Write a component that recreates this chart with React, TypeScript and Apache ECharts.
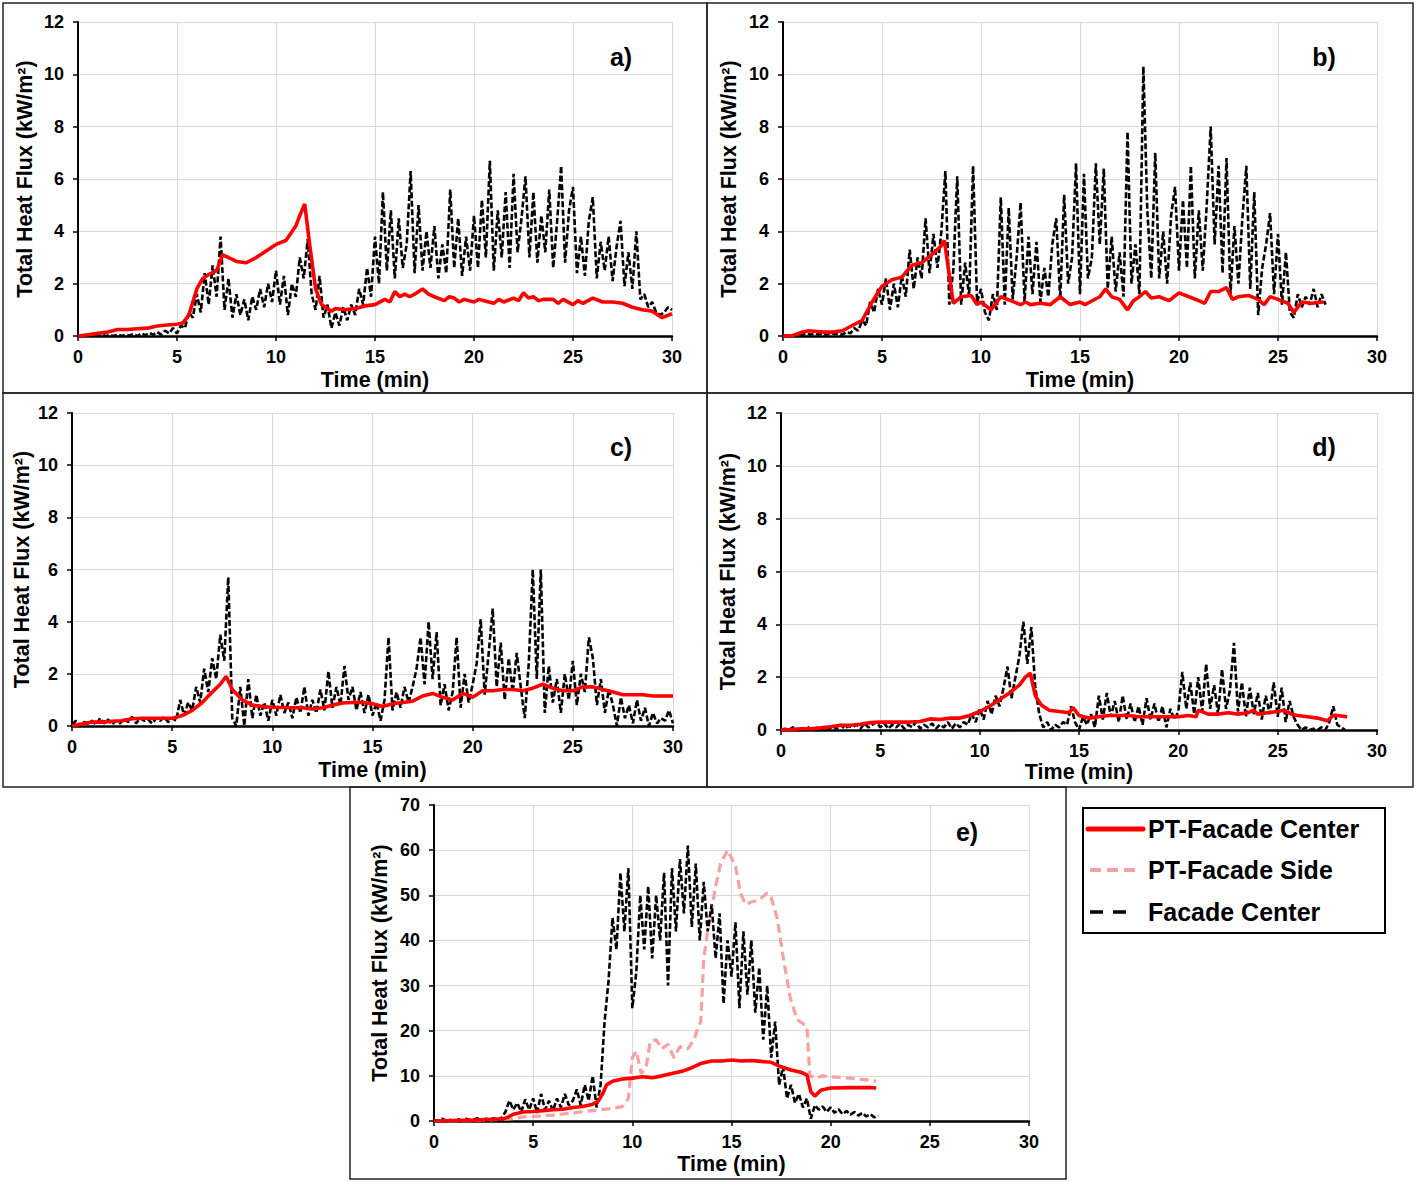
import { useEffect, useRef } from "react";
import * as echarts from "echarts";

// sampling step (min) of the facade-center gauge records
const STEP = 0.2;

const panelLetters = ["a)", "b)", "c)", "d)", "e)"];
const legendNames = ["PT-Facade Center", "PT-Facade Side", "Facade Center"];

// ---- panel a ----
const aPtCenter = [
  [0, 0], [0.5, 0.05], [1, 0.1], [1.5, 0.15], [2, 0.25], [2.5, 0.25], [3, 0.28], [3.5, 0.3],
  [4, 0.38], [4.5, 0.42], [5, 0.45], [5.3, 0.5], [5.6, 0.8], [6, 1.8], [6.3, 2.2], [6.6, 2.35],
  [7, 2.5], [7.3, 3.1], [7.6, 3.0], [8, 2.85], [8.5, 2.8], [9, 3.0], [9.5, 3.25], [10, 3.5],
  [10.5, 3.65], [11, 4.2], [11.2, 4.6], [11.45, 5.05], [11.7, 3.5], [12, 1.8], [12.3, 1.2],
  [12.8, 0.95], [13, 1.05], [13.5, 1.0], [14, 1.05], [14.5, 1.15], [15, 1.2], [15.5, 1.4],
  [15.75, 1.3], [16, 1.7], [16.25, 1.5], [16.5, 1.6], [16.75, 1.5], [17, 1.6], [17.4, 1.8],
  [17.7, 1.6], [18, 1.5], [18.5, 1.35], [18.75, 1.5], [19, 1.45], [19.25, 1.3], [19.5, 1.4],
  [20, 1.3], [20.25, 1.4], [20.5, 1.35], [21, 1.25], [21.25, 1.4], [21.5, 1.3], [22, 1.45],
  [22.25, 1.35], [22.5, 1.65], [22.75, 1.45], [23, 1.5], [23.25, 1.35], [23.5, 1.4], [24, 1.4],
  [24.25, 1.25], [24.5, 1.4], [25, 1.2], [25.25, 1.35], [25.5, 1.25], [26, 1.45], [26.5, 1.3],
  [27, 1.3], [27.5, 1.25], [28, 1.1], [28.5, 1.0], [29, 0.95], [29.5, 0.7], [30, 0.85],
];
const aFacade = [
  0, 0, 0.02, 0, 0.03, 0, 0.05, 0, 0.04, 0,
  0.06, 0, 0.05, 0.02, 0.08, 0, 0.1, 0.03, 0.12, 0.05,
  0.15, 0.05, 0.2, 0.1, 0.3, 0.1, 0.4, 0.3, 0.9, 0.7,
  1.6, 0.9, 2.4, 1.2, 2.7, 1.5, 3.8, 1.0, 2.2, 0.7,
  1.6, 0.8, 1.4, 0.6, 1.5, 1.0, 1.8, 1.1, 2.0, 1.3,
  2.5, 1.2, 2.3, 0.8, 2.0, 1.5, 3.0, 2.2, 3.7, 1.6,
  1.0, 2.3, 0.7, 1.2, 0.3, 0.9, 0.4, 1.1, 0.6, 1.2,
  0.8, 1.8, 1.2, 2.6, 1.5, 3.8, 2.0, 5.5, 2.5, 4.8,
  2.2, 4.5, 2.6, 3.5, 6.3, 2.4, 5.0, 2.5, 4.0, 2.6,
  4.2, 2.2, 3.5, 2.4, 5.6, 2.6, 4.5, 2.3, 3.8, 2.5,
  4.6, 2.6, 5.2, 3.0, 6.7, 2.5, 4.8, 3.0, 5.5, 2.6,
  6.2, 3.2, 4.5, 6.1, 3.0, 5.5, 2.8, 4.6, 3.2, 5.6,
  2.6, 4.4, 6.5, 2.8, 4.8, 5.7, 2.4, 3.8, 2.3, 4.4,
  5.3, 2.2, 3.6, 2.5, 3.8, 2.1, 3.4, 4.4, 1.9, 3.2,
  1.8, 4.0, 1.4, 1.6, 1.1, 1.3, 0.9, 0.8, 0.9, 1.1,
  1.0,
];

// ---- panel b ----
const bPtCenter = [
  [0, 0], [0.5, 0.02], [1, 0.15], [1.3, 0.2], [2, 0.15], [2.5, 0.15], [3, 0.2], [3.5, 0.4],
  [4, 0.6], [4.5, 1.3], [5, 1.9], [5.5, 2.15], [6, 2.25], [6.5, 2.7], [7, 2.8], [7.5, 3.1],
  [8, 3.45], [8.15, 3.65], [8.6, 1.25], [9, 1.5], [9.5, 1.55], [9.8, 1.2], [10, 1.3],
  [10.5, 1.0], [11, 1.5], [11.5, 1.35], [12, 1.2], [12.25, 1.3], [12.5, 1.2], [13, 1.25],
  [13.5, 1.2], [14, 1.5], [14.5, 1.2], [15, 1.3], [15.25, 1.2], [15.5, 1.3], [16, 1.5],
  [16.3, 1.8], [16.6, 1.5], [17, 1.4], [17.4, 1.0], [17.7, 1.35], [18, 1.5], [18.3, 1.7],
  [18.6, 1.45], [19, 1.5], [19.5, 1.35], [20, 1.65], [20.5, 1.5], [21, 1.35], [21.3, 1.25],
  [21.6, 1.7], [22, 1.7], [22.4, 1.85], [22.7, 1.4], [23, 1.5], [23.5, 1.55], [24, 1.4],
  [24.3, 1.2], [24.6, 1.5], [25, 1.4], [25.5, 1.25], [25.8, 0.9], [26.2, 1.3], [26.7, 1.25],
  [27.3, 1.3],
];
const bFacade = [
  0, 0.02, 0, 0.03, 0, 0.05, 0.1, 0.05, 0.1, 0.06,
  0.1, 0.05, 0.12, 0.08, 0.1, 0.05, 0.15, 0.1, 0.3, 0.2,
  0.6, 0.4, 1.3, 0.9, 1.8, 1.2, 2.2, 1.0, 2.0, 1.1,
  2.3, 1.5, 3.3, 1.8, 3.0, 2.2, 4.5, 2.4, 3.9, 2.6,
  4.0, 6.3, 1.2, 2.5, 6.1, 1.2, 2.8, 1.5, 6.5, 1.3,
  1.8, 0.9, 0.6, 1.6, 1.0, 5.3, 1.2, 4.9, 1.4, 3.0,
  5.1, 1.3, 3.8, 1.6, 3.6, 1.3, 2.6, 1.5, 3.5, 4.5,
  1.4, 5.4, 2.0, 3.0, 6.6, 1.6, 6.2, 2.2, 3.0, 6.6,
  3.5, 6.4, 1.8, 3.8, 1.7, 3.2, 1.5, 7.8, 2.0, 3.5,
  1.6, 10.3, 4.8, 2.2, 7.0, 2.2, 4.0, 2.0, 4.6, 5.7,
  2.5, 5.2, 2.6, 6.5, 2.2, 4.8, 2.5, 5.0, 8.0, 3.5,
  6.5, 2.4, 6.8, 1.6, 4.2, 2.0, 4.5, 6.5, 1.8, 5.5,
  0.8, 2.6, 3.5, 4.7, 1.6, 3.9, 1.2, 3.2, 0.9, 0.7,
  1.6, 1.1, 1.5, 1.2, 1.8, 1.1, 1.6, 1.2,
];

// ---- panel c ----
const cPtCenter = [
  [0, 0], [0.5, 0.08], [1, 0.15], [1.5, 0.15], [2, 0.18], [2.5, 0.2], [3, 0.28], [3.5, 0.3],
  [4, 0.3], [4.5, 0.3], [5, 0.3], [5.5, 0.4], [6, 0.6], [6.5, 0.9], [7, 1.3], [7.4, 1.6],
  [7.7, 1.9], [8, 1.4], [8.5, 1.0], [9, 0.8], [9.5, 0.75], [10, 0.72], [11, 0.7], [11.5, 0.7],
  [12, 0.65], [12.5, 0.7], [13, 0.8], [13.5, 0.88], [14, 0.9], [14.5, 0.9], [15, 0.85],
  [15.5, 0.75], [16, 0.85], [16.5, 0.9], [17, 0.95], [17.5, 1.15], [18, 1.25], [18.5, 1.1],
  [19, 1.0], [19.5, 1.25], [20, 1.1], [20.5, 1.35], [21, 1.35], [21.5, 1.4], [22, 1.4],
  [22.5, 1.35], [23, 1.45], [23.5, 1.6], [24, 1.45], [24.5, 1.35], [25, 1.35], [25.5, 1.5],
  [26, 1.5], [26.5, 1.4], [27, 1.3], [27.5, 1.2], [28, 1.2], [28.5, 1.2], [29, 1.15],
  [29.5, 1.15], [30, 1.15],
];
const cFacade = [
  0.05, 0.2, 0, 0.15, 0.1, 0.2, 0.05, 0.3, 0.1, 0.25,
  0.05, 0.2, 0.1, 0.3, 0.15, 0.35, 0.1, 0.3, 0.2, 0.25,
  0.1, 0.3, 0.2, 0.35, 0.15, 0.3, 0.2, 1.0, 0.4, 0.9,
  0.6, 1.5, 0.9, 2.2, 1.3, 2.6, 1.8, 3.5, 2.5, 5.7,
  0.3, 0, 1.5, 0, 1.8, 0.3, 1.2, 0.4, 0.9, 0.2,
  1.0, 0.4, 1.2, 0.5, 0.9, 0.3, 1.1, 0.5, 1.5, 0.4,
  1.0, 0.5, 1.4, 0.6, 2.1, 0.7, 1.5, 0.8, 2.3, 1.0,
  1.5, 0.6, 1.3, 0.5, 1.2, 0.4, 0.9, 0.2, 1.0, 3.4,
  0.6, 1.3, 0.7, 1.5, 0.9, 1.5, 2.2, 3.4, 1.6, 4.0,
  1.8, 3.6, 0.8, 1.6, 0.6, 1.3, 3.4, 0.7, 2.0, 0.9,
  1.6, 2.4, 4.1, 1.2, 2.8, 4.5, 1.5, 3.2, 1.0, 2.6,
  1.3, 2.8, 1.5, 0.3, 2.4, 6.0, 1.8, 6.0, 0.5, 2.3,
  0.9, 1.8, 0.5, 2.0, 1.0, 2.5, 0.8, 2.0, 1.3, 3.4,
  2.6, 0.8, 1.8, 0.5, 1.4, 0.8, 0, 1.1, 0.3, 0.8,
  0.1, 1.0, 0.2, 0.7, 0, 0.5, 0.1, 0.3, 0.2, 0.6,
  0.1,
];

// ---- panel d ----
const dPtCenter = [
  [0, 0], [0.5, 0.02], [1, 0.05], [1.5, 0.05], [2, 0.08], [2.5, 0.12], [3, 0.18], [3.5, 0.18],
  [4, 0.22], [4.5, 0.28], [5, 0.3], [5.5, 0.3], [6, 0.3], [6.5, 0.3], [7, 0.32], [7.5, 0.42],
  [8, 0.4], [8.5, 0.45], [9, 0.45], [9.5, 0.55], [10, 0.7], [10.5, 0.9], [11, 1.15],
  [11.5, 1.4], [12, 1.7], [12.3, 2.0], [12.55, 2.15], [12.8, 1.3], [13.1, 0.95], [13.5, 0.75],
  [14, 0.7], [14.5, 0.65], [14.7, 0.85], [15, 0.55], [15.5, 0.45], [16, 0.5], [16.5, 0.55],
  [17, 0.55], [17.5, 0.55], [18, 0.5], [18.5, 0.5], [19, 0.5], [19.5, 0.5], [20, 0.5],
  [20.5, 0.55], [20.9, 0.5], [21, 0.75], [21.5, 0.6], [22, 0.6], [22.5, 0.65], [23, 0.6],
  [23.5, 0.65], [23.8, 0.75], [24, 0.6], [24.5, 0.65], [25, 0.7], [25.3, 0.75], [25.7, 0.6],
  [26, 0.55], [26.5, 0.5], [27, 0.45], [27.5, 0.35], [27.8, 0.55], [28, 0.55], [28.5, 0.5],
];
const dFacade = [
  0, 0.05, 0, 0.1, 0, 0.05, 0, 0.1, 0.02, 0.08,
  0, 0.1, 0.02, 0.15, 0.05, 0.2, 0.05, 0.15, 0.1, 0.2,
  0.05, 0.25, 0.1, 0.2, 0.3, 0.1, 0.25, 0.05, 0.2, 0.1,
  0.25, 0.05, 0.2, 0.1, 0.3, 0.05, 0.2, 0.1, 0.25, 0.05,
  0.2, 0.1, 0.3, 0.05, 0.25, 0.1, 0.3, 0.2, 0.6, 0.3,
  0.8, 0.4, 1.1, 0.6, 1.3, 0.9, 1.6, 2.4, 1.2, 2.0,
  2.8, 4.1, 2.5, 3.9, 1.6, 0.6, 0.1, 0.3, 0, 0.2,
  0.1, 0.3, 0.2, 0.9, 0.3, 0, 0.5, 0.2, 0.6, 0.1,
  1.3, 0.4, 1.4, 0.5, 1.1, 0.3, 1.3, 0.4, 1.0, 0.3,
  0.9, 0.2, 1.2, 0.4, 1.0, 0.3, 0.9, 0.1, 0.8, 0.4,
  0.7, 2.2, 0.8, 1.8, 0.6, 2.0, 0.7, 2.5, 0.8, 1.7,
  0.6, 2.3, 0.8, 1.5, 3.3, 0.7, 1.8, 0.5, 1.6, 0.6,
  1.4, 0.4, 1.3, 0.6, 1.8, 0.5, 1.6, 0.3, 1.1, 0.5,
  0.2, 0, 0.1, 0, 0.05, 0, 0.1, 0, 0.3, 0.9,
  0.2, 0.1, 0,
];

// ---- panel e ----
const ePtCenter = [
  [0, 0], [1, 0.1], [2, 0.2], [3, 0.4], [3.5, 0.5], [3.7, 0.8], [4, 1.5], [4.5, 2.0],
  [5, 2.1], [5.5, 2.3], [6, 2.5], [6.5, 2.6], [7, 3.0], [7.5, 3.2], [8, 3.7], [8.3, 4.5],
  [8.5, 6.0], [8.7, 8.0], [9, 8.8], [9.5, 9.3], [10, 9.5], [10.5, 9.8], [11, 9.6],
  [11.5, 10.0], [12, 10.5], [12.5, 11.0], [13, 11.8], [13.5, 12.8], [14, 13.3], [14.5, 13.3],
  [15, 13.5], [15.5, 13.3], [16, 13.4], [16.5, 13.2], [17, 13.0], [17.5, 12.0], [18, 11.3],
  [18.5, 10.8], [18.8, 10.2], [19.0, 6.5], [19.2, 5.5], [19.5, 6.8], [20, 7.3], [21, 7.4],
  [22, 7.4], [22.3, 7.3],
];
const ePtSide = [
  [0, 0], [1, 0], [2, 0.1], [3, 0.3], [4, 0.5], [4.5, 0.9], [5, 1.0], [6, 1.3], [7, 1.8],
  [8, 2.3], [9, 2.8], [9.5, 3.2], [9.8, 5.0], [10.0, 14.0], [10.2, 15.5], [10.45, 10.5],
  [10.7, 12.0], [10.9, 17.5], [11.2, 18.0], [11.5, 16.0], [11.8, 17.0], [12.1, 14.0],
  [12.4, 16.5], [12.8, 16.0], [13.1, 18.0], [13.3, 20.5], [13.45, 22.0], [13.6, 36.0],
  [13.8, 42.0], [14.0, 47.0], [14.2, 52.0], [14.45, 57.0], [14.8, 60.0], [15.2, 56.5],
  [15.45, 50.5], [15.7, 48.0], [16.0, 48.5], [16.4, 49.0], [16.8, 50.5], [17.0, 49.5],
  [17.3, 45.0], [17.6, 36.5], [17.95, 27.5], [18.3, 22.5], [18.8, 21.0], [18.95, 10.0],
  [19.3, 9.5], [19.6, 10.0], [20, 9.8], [21, 9.5], [22, 9.0], [22.3, 8.8],
];
const eFacade = [
  0.2, 0, 0.5, 0.1, 0.3, 0, 0.4, 0.1, 0.5, 0.2,
  0.3, 0.6, 0.1, 0.5, 0.3, 0.6, 0.2, 0.7, 2.0, 4.5,
  2.5, 4.0, 2.0, 4.8, 2.5, 5.0, 1.8, 6.0, 2.5, 4.5,
  2.2, 5.0, 3.0, 6.0, 3.5, 4.5, 7.0, 3.5, 8.0, 4.5,
  10.0, 3.0, 8.0, 22.0, 31.0, 45.0, 38.0, 55.0, 42.0, 56.0,
  25.0, 33.0, 50.0, 38.0, 52.0, 36.0, 50.0, 40.0, 55.0, 30.0,
  56.0, 42.0, 58.0, 46.0, 61.0, 43.0, 57.0, 40.0, 53.0, 42.0,
  48.0, 36.0, 46.0, 26.0, 40.0, 32.0, 44.0, 25.0, 42.0, 28.0,
  40.0, 24.0, 34.0, 18.0, 30.0, 14.0, 22.0, 8.0, 12.0, 5.0,
  8.0, 4.0, 6.0, 3.0, 5.0, 0.5, 3.5, 2.5, 3.2, 2.0,
  3.0, 1.8, 2.6, 1.5, 2.2, 1.4, 2.0, 1.2, 1.8, 1.0,
  1.5, 0.8, 1.2,
];

const grids = [
  { left: 78, top: 22, width: 594, height: 314 },
  { left: 783, top: 22, width: 594, height: 314 },
  { left: 72, top: 413, width: 601, height: 313 },
  { left: 781, top: 413, width: 596, height: 317 },
  { left: 434, top: 805, width: 595, height: 316 },
];
const yNameGaps = [42, 43, 39, 42, 43];
const xNameGaps = [33, 33, 33, 31, 32];
const letterPos = [
  [621, 57], [1324, 57], [621, 447], [1324, 447], [967, 832],
];
const boxes = [
  [3, 3, 704, 390], [707, 3, 706, 390], [3, 393, 704, 394], [707, 393, 706, 394], [350, 787, 716, 392],
];

const FONT = "Liberation Sans";
const RED = "#ff0000";
const PINK = "#f7a1a1";

const toSeries = (vals: number[]) => vals.map((v, i) => [Math.round(i * STEP * 10) / 10, v]);

const App = () => {
  const chartRef = useRef<HTMLDivElement>(null);

  useEffect(() => {
    if (!chartRef.current) return;
    const chart = echarts.init(chartRef.current, null, { renderer: "svg" });

    const labelStyle = { color: "#000", fontFamily: FONT, fontWeight: "bold" as const, fontSize: 18 };
    const nameStyle = { color: "#000", fontFamily: FONT, fontWeight: "bold" as const, fontSize: 21.5 };

    const xAxis = grids.map((_, i) => ({
      gridIndex: i,
      type: "value",
      min: 0,
      max: 30,
      interval: 5,
      name: "Time (min)",
      nameLocation: "middle",
      nameGap: xNameGaps[i],
      nameTextStyle: nameStyle,
      axisLine: { onZero: false, lineStyle: { color: "#000", width: 2.5 } },
      axisTick: { show: true, length: 5, lineStyle: { color: "#000", width: 1.5 } },
      axisLabel: { ...labelStyle, margin: 12 },
      splitLine: { show: true, lineStyle: { color: "#d9d9d9", width: 1 } },
    }));

    const yAxis = grids.map((_, i) => ({
      gridIndex: i,
      type: "value",
      min: 0,
      max: i === 4 ? 70 : 12,
      interval: i === 4 ? 10 : 2,
      name: "Total Heat Flux (kW/m²)",
      nameLocation: "middle",
      nameRotate: 90,
      nameGap: yNameGaps[i],
      nameTextStyle: nameStyle,
      axisLine: { show: true, onZero: false, lineStyle: { color: "#000", width: 2 } },
      axisTick: { show: true, length: 5, lineStyle: { color: "#000", width: 1.5 } },
      axisLabel: { ...labelStyle, margin: 14 },
      splitLine: { show: true, lineStyle: { color: "#d9d9d9", width: 1 } },
    }));

    const facadeLine = (idx: number, vals: number[]) => ({
      name: legendNames[2],
      type: "line",
      xAxisIndex: idx,
      yAxisIndex: idx,
      data: toSeries(vals),
      showSymbol: false,
      symbol: "none",
      lineStyle: { color: "#000", width: 2.6, type: [6, 2.5] },
      z: 2,
    });
    const centerLine = (idx: number, data: number[][]) => ({
      name: legendNames[0],
      type: "line",
      xAxisIndex: idx,
      yAxisIndex: idx,
      data,
      showSymbol: false,
      symbol: "none",
      lineStyle: { color: RED, width: 3.6 },
      z: 4,
    });

    const series: any[] = [
      facadeLine(0, aFacade), centerLine(0, aPtCenter),
      facadeLine(1, bFacade), centerLine(1, bPtCenter),
      facadeLine(2, cFacade), centerLine(2, cPtCenter),
      facadeLine(3, dFacade), centerLine(3, dPtCenter),
      {
        name: legendNames[1],
        type: "line",
        xAxisIndex: 4,
        yAxisIndex: 4,
        data: ePtSide,
        showSymbol: false,
        symbol: "none",
        lineStyle: { color: PINK, width: 3.2, type: [9, 5] },
        z: 1,
      },
      facadeLine(4, eFacade), centerLine(4, ePtCenter),
    ];

    const graphic: any[] = [
      ...boxes.map(([x, y, w, h]) => ({
        type: "rect",
        shape: { x, y, width: w, height: h },
        style: { fill: "none", stroke: "#222", lineWidth: 1.5 },
        silent: true,
      })),
      ...letterPos.map(([x, y], i) => ({
        type: "text",
        x,
        y,
        style: {
          text: panelLetters[i],
          font: `bold 25px "${FONT}"`,
          fill: "#000",
          align: "center",
          verticalAlign: "middle",
        },
      })),
      {
        type: "rect",
        shape: { x: 1083, y: 808, width: 302, height: 125 },
        style: { fill: "#fff", stroke: "#000", lineWidth: 2 },
      },
      {
        type: "line",
        shape: { x1: 1088, y1: 829, x2: 1143, y2: 829 },
        style: { stroke: RED, lineWidth: 5, lineCap: "round" },
      },
      {
        type: "line",
        shape: { x1: 1090, y1: 870, x2: 1141, y2: 870 },
        style: { stroke: PINK, lineWidth: 4, lineDash: [11, 6] },
      },
      {
        type: "line",
        shape: { x1: 1090, y1: 912, x2: 1136, y2: 912 },
        style: { stroke: "#000", lineWidth: 3.5, lineDash: [13, 10] },
      },
      ...legendNames.map((t, i) => ({
        type: "text",
        x: 1148,
        y: [829, 870, 912][i],
        style: {
          text: t,
          font: `bold 25px "${FONT}"`,
          fill: "#000",
          align: "left",
          verticalAlign: "middle",
        },
      })),
    ];

    chart.setOption({
      animation: false,
      backgroundColor: "#fff",
      grid: grids,
      xAxis,
      yAxis,
      series,
      graphic,
    });

    return () => {
      chart.dispose();
    };
  }, []);

  return (
    <div
      ref={chartRef}
      style={{ position: "absolute", left: 0, top: 0, width: 1416, height: 1182, background: "#fff" }}
    />
  );
};

export default App;
